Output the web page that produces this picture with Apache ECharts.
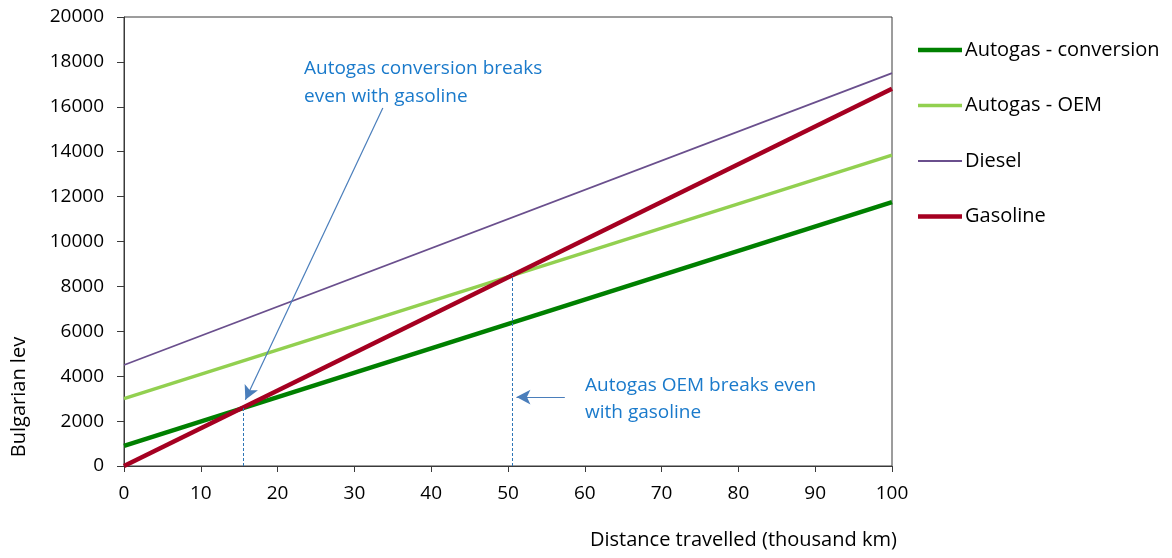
<!DOCTYPE html>
<html>
<head>
<meta charset="utf-8">
<script src="https://cdn.jsdelivr.net/npm/echarts@6/dist/echarts.min.js"></script>
<style>
  html, body { margin: 0; padding: 0; background: #fff; }
  #chart { width: 1172px; height: 558px; }
</style>
</head>
<body>
<div id="chart"></div>
<script>
// Cumulative cost of ownership (Bulgarian lev) vs distance travelled (thousand km)
const distance = [0, 100];
const autogasConversion = [900, 11750];
const autogasOEM = [3000, 13850];
const diesel = [4500, 17500];
const gasoline = [0, 16800];

// Break-even points with gasoline
const breakEvenConversion = [15.5, 2600];
const breakEvenOEM = [50.5, 8500];

// Callout arrows (data coordinates: start -> tip)
const arrowConversion = [[33.7, 15950], [15.8, 2950]];
const arrowOEM = [[57.4, 3070], [51.1, 3070]];

const FONT = '"Open Sans"';

function pairs(xs, ys) { return xs.map((x, i) => [x, ys[i]]); }

// Legend swatch: a horizontal bar of given thickness centred in a 44x14 box
// (tiny corner specks keep the box size so the bar is not stretched)
function swatch(thickness) {
  const a = (14 - thickness) / 2, b = a + thickness;
  return 'path://M0,0 h0.01 v0.01 h-0.01 Z M44,14 h-0.01 v-0.01 h0.01 Z ' +
         'M0,' + a + ' H44 V' + b + ' H0 Z';
}

const chart = echarts.init(document.getElementById('chart'));

const calloutColor = '#4a7ebb';

chart.setOption({
  animation: false,
  textStyle: { fontFamily: FONT },
  grid: {
    left: 124, top: 17, right: 280, bottom: 92,
    show: true, borderColor: '#3a3a3a', borderWidth: 1
  },
  legend: {
    orient: 'vertical',
    left: 913, top: 35,
    itemWidth: 44, itemHeight: 14, itemGap: 35.5,
    textStyle: { fontFamily: FONT, fontSize: 20, color: '#000', padding: [0, 0, 0, -2] },
    data: [
      { name: 'Autogas - conversion', icon: swatch(4.5) },
      { name: 'Autogas - OEM', icon: swatch(3.5) },
      { name: 'Diesel', icon: swatch(2) },
      { name: 'Gasoline', icon: swatch(4.5) }
    ]
  },
  xAxis: {
    type: 'value', min: 0, max: 100, interval: 10,
    axisLine: { lineStyle: { color: '#3a3a3a' } },
    axisTick: { show: true, length: 6, lineStyle: { color: '#3a3a3a' } },
    axisLabel: { color: '#000', fontSize: 19, margin: 18 },
    splitLine: { show: false }
  },
  yAxis: {
    type: 'value', min: 0, max: 20000, interval: 2000,
    axisLine: { show: true, lineStyle: { color: '#3a3a3a' } },
    axisTick: { show: true, length: 7, lineStyle: { color: '#3a3a3a' } },
    axisLabel: { color: '#000', fontSize: 19, margin: 20, formatter: v => String(v) },
    splitLine: { show: false }
  },
  graphic: [
    { type: 'text', left: 590, top: 530,
      style: { text: 'Distance travelled (thousand km)', font: '20px ' + FONT, fill: '#000' } },
    { type: 'text', x: 19, y: 397, rotation: Math.PI / 2,
      style: { text: 'Bulgarian lev', font: '20px ' + FONT, fill: '#000',
               align: 'center', verticalAlign: 'middle' } },
    { type: 'text', left: 304, top: 55,
      style: { text: 'Autogas conversion breaks\neven with gasoline', font: '19px ' + FONT,
               fill: '#1a7acb', lineHeight: 28 } },
    { type: 'text', left: 585, top: 372,
      style: { text: 'Autogas OEM breaks even\nwith gasoline', font: '19px ' + FONT,
               fill: '#1a7acb', lineHeight: 27 } }
  ],
  series: [
    {
      name: 'Autogas - conversion', type: 'line', symbol: 'none',
      data: pairs(distance, autogasConversion),
      lineStyle: { color: '#008000', width: 4.5 }, itemStyle: { color: '#008000' }, z: 3
    },
    {
      name: 'Autogas - OEM', type: 'line', symbol: 'none',
      data: pairs(distance, autogasOEM),
      lineStyle: { color: '#92d050', width: 3.5 }, itemStyle: { color: '#92d050' }, z: 2
    },
    {
      name: 'Diesel', type: 'line', symbol: 'none',
      data: pairs(distance, diesel),
      lineStyle: { color: '#6a4f8d', width: 1.8 }, itemStyle: { color: '#6a4f8d' }, z: 2
    },
    {
      name: 'Gasoline', type: 'line', symbol: 'none',
      data: pairs(distance, gasoline),
      lineStyle: { color: '#a50021', width: 4.5 }, itemStyle: { color: '#a50021' }, z: 4,
      markLine: {
        silent: true,
        label: { show: false },
        emphasis: { disabled: true },
        data: [
          [
            { coord: [breakEvenConversion[0], 0], symbol: 'none' },
            { coord: [breakEvenConversion[0], breakEvenConversion[1]], symbol: 'none' }
          ],
          [
            { coord: [breakEvenOEM[0], 0], symbol: 'none' },
            { coord: [breakEvenOEM[0], breakEvenOEM[1]], symbol: 'none' }
          ]
        ],
        lineStyle: { color: '#2e75b6', width: 1, type: [3, 2] }
      }
    },
    {
      // Callout arrows pointing at the break-even points
      name: 'callouts', type: 'line', data: [], symbol: 'none',
      markLine: {
        silent: true,
        label: { show: false },
        emphasis: { disabled: true },
        symbol: ['none', 'arrow'],
        symbolSize: [11, 14],
        lineStyle: { color: calloutColor, width: 1.2, type: 'solid' },
        itemStyle: { color: calloutColor },
        data: [
          [{ coord: arrowConversion[0] }, { coord: arrowConversion[1] }],
          [{ coord: arrowOEM[0] }, { coord: arrowOEM[1] }]
        ]
      }
    }
  ]
});
</script>
</body>
</html>
